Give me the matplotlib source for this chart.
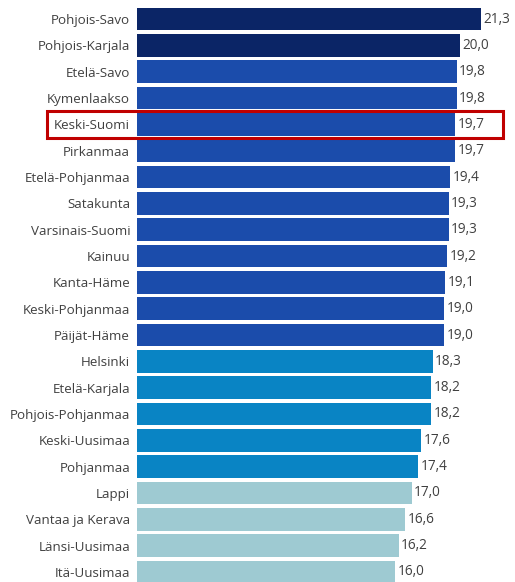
import matplotlib.pyplot as plt
from matplotlib.patches import Rectangle

regions = ["Pohjois-Savo", "Pohjois-Karjala", "Etelä-Savo", "Kymenlaakso",
           "Keski-Suomi", "Pirkanmaa", "Etelä-Pohjanmaa", "Satakunta",
           "Varsinais-Suomi", "Kainuu", "Kanta-Häme", "Keski-Pohjanmaa",
           "Päijät-Häme", "Helsinki", "Etelä-Karjala", "Pohjois-Pohjanmaa",
           "Keski-Uusimaa", "Pohjanmaa", "Lappi", "Vantaa ja Kerava",
           "Länsi-Uusimaa", "Itä-Uusimaa"]
values = [21.3, 20.0, 19.8, 19.8, 19.7, 19.7, 19.4, 19.3, 19.3, 19.2, 19.1,
          19.0, 19.0, 18.3, 18.2, 18.2, 17.6, 17.4, 17.0, 16.6, 16.2, 16.0]
# colour group of each region (0 = highest)
groups = [0, 0, 1, 1, 1, 1, 1, 1, 1, 1, 1, 1, 1, 2, 2, 2, 2, 2, 3, 3, 3, 3]
highlight = "Keski-Suomi"

group_colors = ["#0b2566", "#1b4cab", "#0984c4", "#9ecad2"]
text_color = "#404040"

plt.rcParams["font.family"] = ["Open Sans", "DejaVu Sans"]

fig = plt.figure(figsize=(5.15, 5.82), dpi=100)
ax = fig.add_axes([137 / 515, 0, 378 / 515, 1])

ypos = list(range(len(regions)))
colors = [group_colors[g] for g in groups]
ax.barh(ypos, values, height=0.87, color=colors)

for y, v in zip(ypos, values):
    ax.text(v + 0.15, y, f"{v:.1f}".replace(".", ","), va="center", ha="left",
            fontsize=9.8, color=text_color)

ax.set_yticks(ypos)
ax.set_yticklabels(regions, fontsize=9.6, color=text_color)
ax.tick_params(axis="y", length=0, pad=5)
ax.set_xticks([])
ax.set_xlim(0, 378 / 16.15)
ax.set_ylim(21 + 10 / 26.33, -19 / 26.33)
for s in ax.spines.values():
    s.set_visible(False)

# red frame around the highlighted row
hi = regions.index(highlight)
box = Rectangle((-5.55, hi - 0.5), 28.2, 1.0, fill=False,
                edgecolor="#c00000", linewidth=2.2, clip_on=False)
ax.add_patch(box)

fig.savefig("out.png", dpi=100)
